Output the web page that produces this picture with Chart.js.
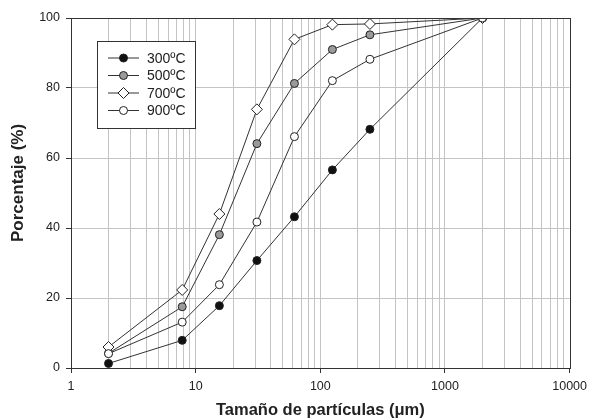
<!DOCTYPE html>
<html>
<head>
<meta charset="utf-8">
<script src="https://cdn.jsdelivr.net/npm/chart.js@4/dist/chart.umd.min.js"></script>
<style>
  html, body { margin: 0; padding: 0; background: #fff; }
  #wrap { width: 593px; height: 420px; }
</style>
</head>
<body>
<div id="wrap"><canvas id="chart" width="593" height="420"></canvas></div>
<script>
// particle sizes (µm) on the log axis
const sizes = [2, 7.8, 15.5, 31, 62, 125, 250, 2000];

const labels = ["300ºC", "500ºC", "700ºC", "900ºC"];
const pct300 = [1.3, 7.9, 17.8, 30.7, 43.2, 56.6, 68.2, 100];
const pct500 = [4.2, 17.5, 38.1, 64.1, 81.3, 91.0, 95.2, 100];
const pct700 = [6.0, 22.3, 44.0, 73.9, 93.9, 98.1, 98.3, 100];
const pct900 = [4.1, 13.1, 23.8, 41.7, 66.1, 82.1, 88.2, 100];

const xTicks = [1, 10, 100, 1000, 10000];
const yTicks = [0, 20, 40, 60, 80, 100];

const xTitle = "Tamaño de partículas (μm)";
const yTitle = "Porcentaje (%)";

const styles = [
  { fill: "#111111", shape: "circle", r: 4 },
  { fill: "#9a9a9a", shape: "circle", r: 4 },
  { fill: "#ffffff", shape: "rectRot", r: 5.5 },
  { fill: "#ffffff", shape: "circle", r: 4 },
];

const FONT = "'Liberation Sans', Arial, sans-serif";

function toPoints(values) {
  return values.map((v, i) => ({ x: sizes[i], y: v }));
}

const series = [pct300, pct500, pct700, pct900];
const datasets = series.map((vals, i) => ({
  label: labels[i],
  data: toPoints(vals),
  order: series.length - 1 - i, // last series drawn on top
  borderColor: "#333333",
  borderWidth: 1,
  backgroundColor: styles[i].fill,
  pointBackgroundColor: styles[i].fill,
  pointBorderColor: "#222222",
  pointBorderWidth: 1,
  pointStyle: styles[i].shape,
  pointRadius: styles[i].r,
  tension: 0,
}));

function isMajor(v) {
  return xTicks.includes(v);
}

// box round the plot, y title and the legend inside the plot
const framePlugin = {
  id: "frame",
  afterDraw(chart) {
    const ctx = chart.ctx;
    const a = chart.chartArea;
    ctx.save();
    ctx.strokeStyle = "#333333";
    ctx.lineWidth = 1;
    ctx.strokeRect(Math.round(a.left) + 0.5, Math.round(a.top) + 0.5,
      Math.round(a.right - a.left), Math.round(a.bottom - a.top));

    // y axis title
    ctx.save();
    ctx.translate(23, 242);
    ctx.rotate(-Math.PI / 2);
    ctx.font = "bold 17px " + FONT;
    ctx.fillStyle = "#222222";
    ctx.textAlign = "left";
    ctx.textBaseline = "alphabetic";
    ctx.fillText(yTitle, 0, 0);
    ctx.restore();

    // legend
    const lx = 97, ly = 41, lw = 98, lh = 87;
    ctx.fillStyle = "#ffffff";
    ctx.fillRect(lx, ly, lw, lh);
    ctx.strokeRect(lx + 0.5, ly + 0.5, lw, lh);
    ctx.font = "14px " + FONT;
    ctx.textBaseline = "middle";
    chart.data.datasets.forEach((ds, i) => {
      const y = 58 + i * 17.5;
      ctx.strokeStyle = "#333333";
      ctx.beginPath();
      ctx.moveTo(108, y);
      ctx.lineTo(139, y);
      ctx.stroke();
      ctx.fillStyle = styles[i].fill;
      ctx.strokeStyle = "#222222";
      Chart.helpers.drawPoint(ctx, {
        pointStyle: styles[i].shape,
        radius: styles[i].r,
        rotation: 0,
        borderWidth: 1,
      }, 123.5, y);
      ctx.fillStyle = "#222222";
      ctx.fillText(ds.label, 147, y + 1);
    });
    ctx.restore();
  },
};

new Chart(document.getElementById("chart"), {
  type: "line",
  data: { datasets: datasets },
  options: {
    responsive: false,
    animation: false,
    layout: { padding: { top: 18, right: 20, left: 0, bottom: 0 } },
    plugins: { legend: { display: false }, tooltip: { enabled: false } },
    scales: {
      x: {
        type: "logarithmic",
        min: 1,
        max: 10000,
        afterBuildTicks(scale) {
          const t = [];
          for (let p = 1; p <= 1000; p *= 10) {
            for (let m = 1; m < 10; m++) t.push({ value: m * p });
          }
          t.push({ value: 10000 });
          scale.ticks = t;
        },
        afterFit(scale) { scale.height = 52; },
        ticks: {
          autoSkip: false,
          maxRotation: 0,
          padding: 6,
          color: "#222222",
          font: { family: FONT, size: 12.5 },
          callback(v) { return isMajor(v) ? String(v) : ""; },
        },
        grid: {
          color: (c) => (c.tick && (c.tick.value === 1 || c.tick.value === 10000)) ? "rgba(0,0,0,0)" : "#c4c4c4",
          tickColor: (c) => (c.tick && isMajor(c.tick.value)) ? "#333333" : "rgba(0,0,0,0)",
          tickLength: 5,
          lineWidth: 1,
        },
        border: { color: "#333333", width: 1 },
        title: {
          display: true,
          text: xTitle,
          color: "#222222",
          padding: { top: 4, bottom: 0 },
          font: { family: FONT, size: 16.5, weight: "bold" },
        },
      },
      y: {
        min: 0,
        max: 100,
        afterBuildTicks(scale) {
          scale.ticks = yTicks.map((v) => ({ value: v }));
        },
        afterFit(scale) { scale.width = 71; },
        ticks: {
          padding: 6,
          color: "#222222",
          font: { family: FONT, size: 12.5 },
        },
        grid: {
          color: (c) => (c.tick && (c.tick.value === 0 || c.tick.value === 100)) ? "rgba(0,0,0,0)" : "#c4c4c4",
          tickColor: "#333333",
          tickLength: 5,
        },
        border: { color: "#333333", width: 1 },
      },
    },
  },
  plugins: [framePlugin],
});
</script>
</body>
</html>
